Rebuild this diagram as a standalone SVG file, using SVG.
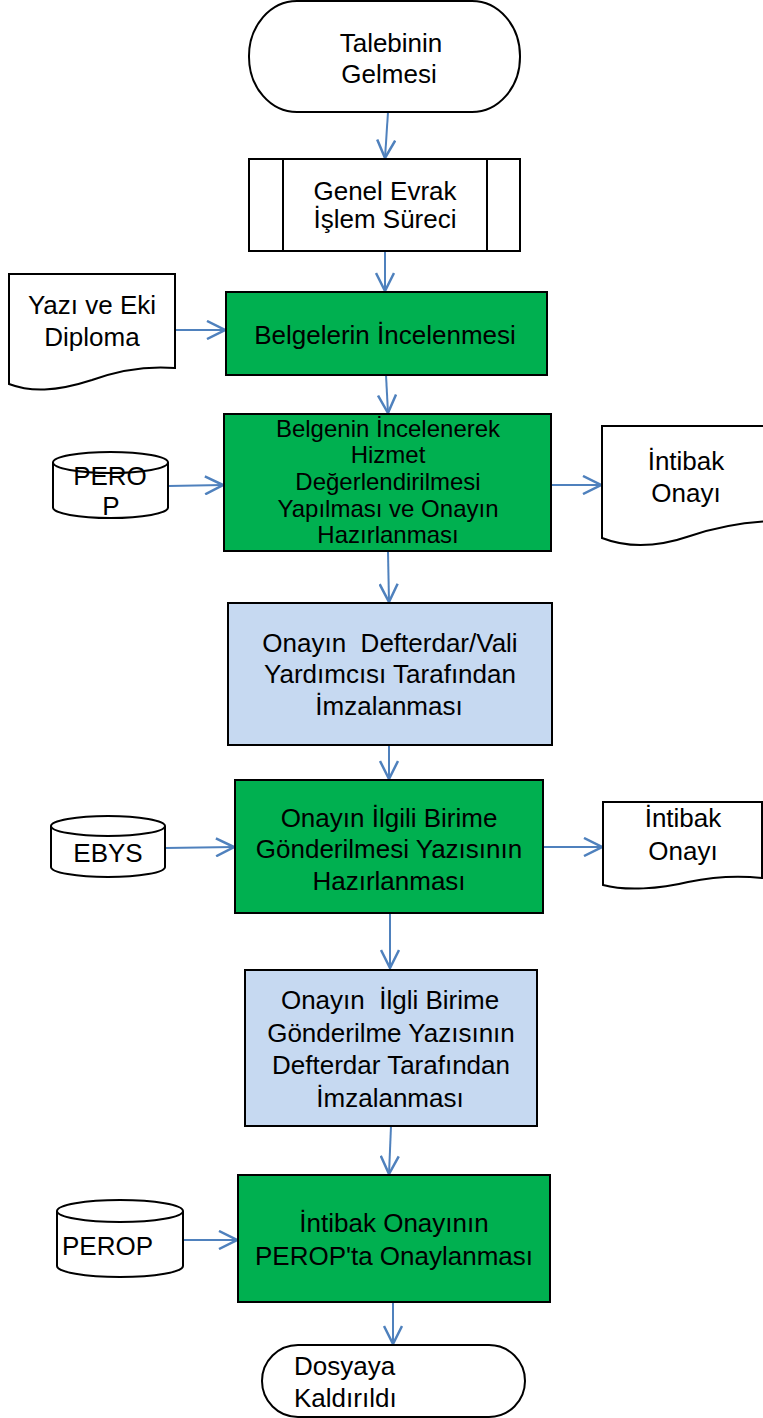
<svg xmlns="http://www.w3.org/2000/svg" width="763" height="1418" viewBox="0 0 763 1418">
<defs>
<style>
.shp{stroke:#000;stroke-width:2;}
.w{fill:#fff;}
.g{fill:#00B050;}
.b{fill:#C6D9F1;}
.t{font-family:"Liberation Sans",Arial,sans-serif;font-size:26px;fill:#000;text-anchor:middle;white-space:pre;}
.s{font-size:24px;}
.tl{text-anchor:start;}
.c{fill:none;stroke:#4F81BD;stroke-width:2;marker-end:url(#ah);}
</style>
<marker id="ah" viewBox="0 0 20 20" refX="19" refY="10" markerWidth="20" markerHeight="20" markerUnits="userSpaceOnUse" orient="auto">
<path d="M1,1 L19,10 L1,19" fill="none" stroke="#4F81BD" stroke-width="2.5"/>
</marker>
</defs>
<rect width="763" height="1418" fill="#fff"/>

<g id="connectors">
<line class="c" x1="388" y1="112" x2="385" y2="158"/>
<line class="c" x1="385" y1="251" x2="385" y2="291"/>
<line class="c" x1="175" y1="330" x2="225" y2="330"/>
<line class="c" x1="386" y1="375" x2="388" y2="413"/>
<line class="c" x1="168" y1="486" x2="223" y2="485"/>
<line class="c" x1="551" y1="485" x2="601" y2="485"/>
<line class="c" x1="388" y1="552" x2="389" y2="602"/>
<line class="c" x1="389" y1="745" x2="389" y2="779"/>
<line class="c" x1="165" y1="848" x2="234" y2="847"/>
<line class="c" x1="543" y1="847" x2="602" y2="847"/>
<line class="c" x1="390" y1="913" x2="390" y2="968"/>
<line class="c" x1="391" y1="1126" x2="389" y2="1174"/>
<line class="c" x1="183" y1="1240" x2="237" y2="1240"/>
<line class="c" x1="393" y1="1302" x2="393" y2="1344"/>
</g>

<g id="n_talebinin">
<rect class="shp w" x="249" y="1" width="271" height="111" rx="48" ry="55"/>
<text class="t" x="391" y="52">Talebinin</text>
<text class="t" x="389" y="83">Gelmesi</text>
</g>

<g id="n_genel_evrak">
<rect class="shp w" x="249" y="159" width="271" height="92"/>
<line class="shp" x1="283" y1="159" x2="283" y2="251"/>
<line class="shp" x1="487" y1="159" x2="487" y2="251"/>
<text class="t" x="385" y="200">Genel Evrak</text>
<text class="t" x="385" y="228">İşlem Süreci</text>
</g>

<g id="n_yazi">
<path class="shp w" d="M9,274 H175 V368 C150,366 125,368 92,380 C55,392 30,392 9,384 Z"/>
<text class="t" x="92" y="314">Yazı ve Eki</text>
<text class="t" x="92" y="346">Diploma</text>
</g>

<g id="n_belgelerin">
<rect class="shp g" x="226" y="292" width="321" height="83"/>
<text class="t" x="385" y="344">Belgelerin İncelenmesi</text>
</g>

<g id="n_perop1">
<path class="shp w" d="M53,462.5 A57.5,10.5 0 0 1 168,462.5 V507.5 A57.5,10.5 0 0 1 53,507.5 Z"/>
<path class="shp" fill="none" d="M53,462.5 A57.5,10.5 0 0 0 168,462.5"/>
<text class="t" x="110" y="485">PERO</text>
<text class="t" x="111" y="515">P</text>
</g>

<g id="n_belgenin">
<rect class="shp g" x="224" y="414" width="327" height="137"/>
<text class="t s" x="388" y="437">Belgenin İncelenerek</text>
<text class="t s" x="388" y="463">Hizmet</text>
<text class="t s" x="388" y="490">Değerlendirilmesi</text>
<text class="t s" x="388" y="517">Yapılması ve Onayın</text>
<text class="t s" x="388" y="543">Hazırlanması</text>
</g>

<g id="n_intibak1">
<path class="shp w" d="M602,426 H790 V521 C750,520 720,526 690,536 C655,548 625,547 602,538 Z"/>
<text class="t" x="686" y="470">İntibak</text>
<text class="t" x="686" y="502">Onayı</text>
</g>

<g id="n_onay_imza">
<rect class="shp b" x="228" y="603" width="324" height="142"/>
<text class="t" x="390" y="652">Onayın  Defterdar/Vali</text>
<text class="t" x="390" y="683">Yardımcısı Tarafından</text>
<text class="t" x="389" y="715">İmzalanması</text>
</g>

<g id="n_ebys">
<path class="shp w" d="M51,826 A57,10 0 0 1 165,826 V867 A57,10 0 0 1 51,867 Z"/>
<path class="shp" fill="none" d="M51,826 A57,10 0 0 0 165,826"/>
<text class="t" x="108" y="862">EBYS</text>
</g>

<g id="n_gonderilmesi">
<rect class="shp g" x="235" y="780" width="308" height="133"/>
<text class="t" x="389" y="827">Onayın İlgili Birime</text>
<text class="t" x="389" y="858">Gönderilmesi Yazısının</text>
<text class="t" x="389" y="890">Hazırlanması</text>
</g>

<g id="n_intibak2">
<path class="shp w" d="M603,802 H762 V878 C735,875 712,877 688,882 C660,889 625,891 603,885 Z"/>
<text class="t" x="683" y="827">İntibak</text>
<text class="t" x="683" y="860">Onayı</text>
</g>

<g id="n_defterdar">
<rect class="shp b" x="245" y="970" width="292" height="156"/>
<text class="t" x="390" y="1009">Onayın  İlgli Birime</text>
<text class="t" x="391" y="1042">Gönderilme Yazısının</text>
<text class="t" x="391" y="1074">Defterdar Tarafından</text>
<text class="t" x="390" y="1107">İmzalanması</text>
</g>

<g id="n_perop2">
<path class="shp w" d="M57,1211 A63,11 0 0 1 183,1211 V1266 A63,11 0 0 1 57,1266 Z"/>
<path class="shp" fill="none" d="M57,1211 A63,11 0 0 0 183,1211"/>
<text class="t tl" x="62" y="1255">PEROP</text>
</g>

<g id="n_perop_onay">
<rect class="shp g" x="238" y="1175" width="312" height="127"/>
<text class="t" x="394" y="1232">İntibak Onayının</text>
<text class="t" x="394" y="1265">PEROP'ta Onaylanması</text>
</g>

<g id="n_dosyaya">
<rect class="shp w" x="262" y="1345" width="263" height="72" rx="36" ry="36"/>
<text class="t tl" x="294" y="1375">Dosyaya</text>
<text class="t tl" x="294" y="1407">Kaldırıldı</text>
</g>
</svg>
